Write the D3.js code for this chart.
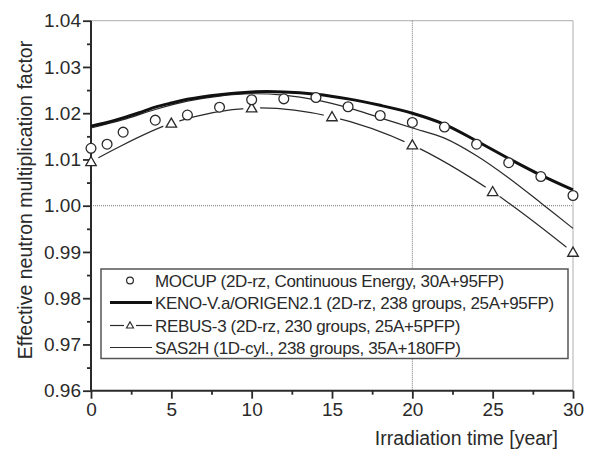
<!DOCTYPE html>
<html>
<head>
<meta charset="utf-8">
<script src="https://cdn.jsdelivr.net/npm/d3@7"></script>
<style>
  html, body { margin: 0; padding: 0; background: #fff; }
  svg { display: block; }
  text { font-family: "Liberation Sans", Arial, sans-serif; fill: #2a2a2a; }
</style>
</head>
<body>
<svg id="chart" width="590" height="451"></svg>
<script>
// ---- data ----
const mocupYears = [0, 1, 2, 4, 6, 8, 10, 12, 14, 16, 18, 20, 22, 24, 26, 28, 30];
const mocupK = [1.0124, 1.0133, 1.0159, 1.0185, 1.0196, 1.0213, 1.0229, 1.0231, 1.0234, 1.0214, 1.0195, 1.0180, 1.0170, 1.0133, 1.0093, 1.0063, 1.0022];

const kenoYears = [0, 1, 2, 3, 4, 5, 6, 8, 10, 12, 14, 16, 18, 20, 22, 24, 26, 28, 30];
const kenoK = [1.0172, 1.0180, 1.0190, 1.0201, 1.0213, 1.0222, 1.0230, 1.0240, 1.0246, 1.0246, 1.0241, 1.0231, 1.0217, 1.0200, 1.0176, 1.0140, 1.0102, 1.0066, 1.0034];

const rebusYears = [0, 5, 10, 15, 20, 25, 30];
const rebusK = [1.0095, 1.0178, 1.0211, 1.0192, 1.0131, 1.0030, 0.9899];

const sasYears = [0, 2, 4, 6, 8, 10, 12, 14, 16, 18, 20, 22, 24, 26, 28, 30];
const sasK = [1.0168, 1.0186, 1.0208, 1.0226, 1.0237, 1.0242, 1.0239, 1.0229, 1.0212, 1.0190, 1.0168, 1.0146, 1.0108, 1.0060, 1.0006, 0.9951];

const xTicks = [0, 5, 10, 15, 20, 25, 30];
const yTicks = [0.96, 0.97, 0.98, 0.99, 1.00, 1.01, 1.02, 1.03, 1.04];
const xTitle = "Irradiation time [year]";
const yTitle = "Effective neutron multiplication factor";
const legendLabels = [
  "MOCUP (2D-rz, Continuous Energy, 30A+95FP)",
  "KENO-V.a/ORIGEN2.1 (2D-rz, 238 groups, 25A+95FP)",
  "REBUS-3 (2D-rz, 230 groups, 25A+5PFP)",
  "SAS2H (1D-cyl., 238 groups, 35A+180FP)"
];

// ---- layout ----
const svg = d3.select("#chart");
const L = 91, R = 573, T = 20.7, B = 390.7;
const x = d3.scaleLinear().domain([0, 30]).range([L, R]);
const y = d3.scaleLinear().domain([0.96, 1.04]).range([B, T]);
const ink = "#2a2a2a";

// frame (top/right light)
svg.append("line").attr("x1", L).attr("x2", R).attr("y1", T).attr("y2", T)
  .attr("stroke", "#bdbdbd").attr("stroke-width", 1.2);
svg.append("line").attr("x1", R).attr("x2", R).attr("y1", T).attr("y2", B)
  .attr("stroke", "#bdbdbd").attr("stroke-width", 1.2);

// dotted reference lines
svg.append("line").attr("x1", x(20)).attr("x2", x(20)).attr("y1", T).attr("y2", B)
  .attr("stroke", "#777").attr("stroke-width", 1).attr("stroke-dasharray", "1,1");
svg.append("line").attr("x1", L).attr("x2", R).attr("y1", y(1.00)).attr("y2", y(1.00))
  .attr("stroke", "#777").attr("stroke-width", 1).attr("stroke-dasharray", "1,1");

// axes
const xAxis = d3.axisBottom(x).tickValues(xTicks).tickSize(8).tickPadding(4).tickFormat(d3.format("d"));
const xMinor = d3.axisBottom(x).tickValues(d3.range(2.5, 30, 5)).tickSize(4).tickFormat("");
const yAxis = d3.axisLeft(y).tickValues(yTicks).tickSize(8).tickPadding(2).tickFormat(d3.format(".2f"));
const yMinor = d3.axisLeft(y).tickValues(d3.range(0.965, 1.04, 0.01)).tickSize(4).tickFormat("");

function styleAxis(g) {
  g.select(".domain").attr("stroke", ink).attr("stroke-width", 2);
  g.selectAll(".tick line").attr("stroke", ink).attr("stroke-width", 1.8);
  g.selectAll(".tick text").attr("fill", "#2a2a2a").style("font-size", "19px")
    .style("font-family", '"Liberation Sans", Arial, sans-serif');
}
const gxm = svg.append("g").attr("transform", `translate(0,${B})`).call(xMinor); styleAxis(gxm);
gxm.select(".domain").remove();
const gym = svg.append("g").attr("transform", `translate(${L},0)`).call(yMinor); styleAxis(gym);
gym.select(".domain").remove();
const gx = svg.append("g").attr("transform", `translate(0,${B})`).call(xAxis); styleAxis(gx);
gx.select(".domain").attr("d", `M${L},0H${R}`);
const gy = svg.append("g").attr("transform", `translate(${L},0)`).call(yAxis); styleAxis(gy);
gy.select(".domain").attr("d", `M0,${B}V${T}`);
gx.selectAll(".tick text").attr("dy", "0.75em").attr("y", 11);

// titles
svg.append("text").attr("x", 558).attr("y", 445).attr("text-anchor", "end")
  .style("font-size", "19.5px").text(xTitle);
svg.append("text").attr("transform", "translate(32.3,200) rotate(-90)")
  .attr("text-anchor", "middle").style("font-size", "19.5px").text(yTitle);

// ---- series ----
const curve = d3.curveCatmullRom.alpha(0.5);
const line = d3.line().x(d => x(d[0])).y(d => y(d[1])).curve(curve);
const zip = (a, b) => a.map((v, i) => [v, b[i]]);

// REBUS line with gaps around markers (mask)
const defs = svg.append("defs");
const mask = defs.append("mask").attr("id", "rebusGap").attr("maskUnits", "userSpaceOnUse")
  .attr("x", 0).attr("y", 0).attr("width", 590).attr("height", 451);
mask.append("rect").attr("width", 590).attr("height", 451).attr("fill", "#fff");
mask.selectAll("circle").data(zip(rebusYears, rebusK)).join("circle")
  .attr("cx", d => x(d[0])).attr("cy", d => y(d[1])).attr("r", 8.5).attr("fill", "#000");

svg.append("path").datum(zip(rebusYears, rebusK)).attr("d", line)
  .attr("fill", "none").attr("stroke", ink).attr("stroke-width", 1.2).attr("mask", "url(#rebusGap)");

svg.append("path").datum(zip(sasYears, sasK)).attr("d", line)
  .attr("fill", "none").attr("stroke", ink).attr("stroke-width", 1.2);

svg.append("path").datum(zip(kenoYears, kenoK)).attr("d", line)
  .attr("fill", "none").attr("stroke", "#111").attr("stroke-width", 3);

const tri = d3.symbol().type(d3.symbolTriangle).size(48);
svg.selectAll(".tri").data(zip(rebusYears, rebusK)).join("path")
  .attr("class", "tri").attr("d", tri)
  .attr("transform", d => `translate(${x(d[0])},${y(d[1]) + 0.8})`)
  .attr("fill", "#fff").attr("stroke", ink).attr("stroke-width", 1.3);

svg.selectAll(".circ").data(zip(mocupYears, mocupK)).join("circle")
  .attr("class", "circ").attr("cx", d => x(d[0])).attr("cy", d => y(d[1])).attr("r", 4.9)
  .attr("fill", "#fff").attr("stroke", ink).attr("stroke-width", 1.3);

// ---- legend ----
const lg = svg.append("g");
lg.append("rect").attr("x", 101).attr("y", 269).attr("width", 467).attr("height", 89.5)
  .attr("fill", "#fff").attr("stroke", "#555").attr("stroke-width", 1.5);
const rowY = [280.5, 302.5, 325.5, 347.5];
lg.append("circle").attr("cx", 130).attr("cy", rowY[0]).attr("r", 3.4)
  .attr("fill", "#fff").attr("stroke", ink).attr("stroke-width", 1.2);
lg.append("line").attr("x1", 110).attr("x2", 152).attr("y1", rowY[1]).attr("y2", rowY[1])
  .attr("stroke", "#111").attr("stroke-width", 3);
lg.append("line").attr("x1", 110).attr("x2", 124).attr("y1", rowY[2]).attr("y2", rowY[2])
  .attr("stroke", ink).attr("stroke-width", 1.2);
lg.append("line").attr("x1", 136).attr("x2", 152).attr("y1", rowY[2]).attr("y2", rowY[2])
  .attr("stroke", ink).attr("stroke-width", 1.2);
lg.append("path").attr("d", d3.symbol().type(d3.symbolTriangle).size(22))
  .attr("transform", `translate(130,${rowY[2] + 0.5})`)
  .attr("fill", "#fff").attr("stroke", ink).attr("stroke-width", 1.1);
lg.append("line").attr("x1", 110).attr("x2", 152).attr("y1", rowY[3]).attr("y2", rowY[3])
  .attr("stroke", ink).attr("stroke-width", 1.2);
lg.selectAll(".lt").data(legendLabels).join("text").attr("class", "lt")
  .attr("x", 155).attr("y", (d, i) => rowY[i]).attr("dy", "0.36em")
  .style("font-size", "17px").style("letter-spacing", "-0.35px").text(d => d);
</script>
</body>
</html>
